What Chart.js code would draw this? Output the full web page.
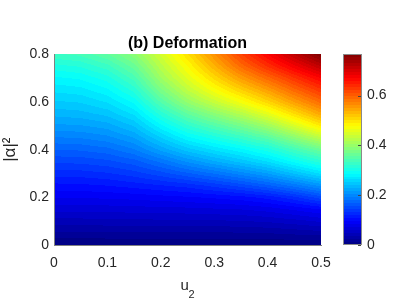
<!DOCTYPE html>
<html>
<head>
  <title>(b) Deformation</title>
  <style>
    body { margin: 0; background: #fff; }
    #chart { display: block; }
  </style>
</head>
<body>
  <canvas id="chart" width="415" height="300"></canvas>

  <script src="https://cdn.jsdelivr.net/npm/chart.js"></script>
  <script>
    // grid: u2 along x, |alpha|^2 along y
    const u2Values = [0, 0.05, 0.1, 0.15, 0.2, 0.25, 0.3, 0.35, 0.4, 0.45, 0.5];
    const alphaValues = [0, 0.05, 0.1, 0.15, 0.2, 0.25, 0.3, 0.35, 0.4, 0.45, 0.5, 0.55, 0.6, 0.65, 0.7, 0.75, 0.8];

    // deformation, one row per |alpha|^2 value (bottom to top), one column per u2 value
    const deformation = [
      [0, 0, 0, 0, 0, 0, 0, 0, 0, 0, 0],
      [0.021, 0.021, 0.022, 0.022, 0.022, 0.022, 0.022, 0.023, 0.024, 0.027, 0.030],
      [0.043, 0.043, 0.044, 0.044, 0.045, 0.045, 0.046, 0.047, 0.050, 0.055, 0.062],
      [0.064, 0.064, 0.065, 0.066, 0.067, 0.068, 0.070, 0.072, 0.077, 0.086, 0.096],
      [0.084, 0.085, 0.086, 0.088, 0.091, 0.094, 0.098, 0.103, 0.112, 0.128, 0.150],
      [0.104, 0.105, 0.108, 0.113, 0.119, 0.125, 0.136, 0.149, 0.165, 0.185, 0.208],
      [0.125, 0.126, 0.130, 0.138, 0.150, 0.165, 0.180, 0.197, 0.215, 0.240, 0.265],
      [0.146, 0.147, 0.152, 0.162, 0.182, 0.205, 0.225, 0.243, 0.263, 0.290, 0.317],
      [0.167, 0.169, 0.175, 0.190, 0.218, 0.245, 0.265, 0.283, 0.305, 0.335, 0.367],
      [0.190, 0.192, 0.199, 0.215, 0.250, 0.283, 0.305, 0.327, 0.352, 0.390, 0.428],
      [0.212, 0.214, 0.221, 0.240, 0.283, 0.320, 0.347, 0.373, 0.405, 0.448, 0.492],
      [0.231, 0.234, 0.243, 0.265, 0.315, 0.358, 0.390, 0.422, 0.458, 0.502, 0.545],
      [0.249, 0.252, 0.264, 0.290, 0.348, 0.397, 0.435, 0.470, 0.508, 0.550, 0.590],
      [0.266, 0.270, 0.284, 0.315, 0.378, 0.430, 0.473, 0.512, 0.550, 0.592, 0.630],
      [0.284, 0.289, 0.305, 0.340, 0.405, 0.456, 0.505, 0.552, 0.592, 0.632, 0.670],
      [0.306, 0.312, 0.330, 0.365, 0.425, 0.478, 0.535, 0.590, 0.635, 0.677, 0.717],
      [0.332, 0.338, 0.358, 0.390, 0.445, 0.500, 0.560, 0.620, 0.670, 0.718, 0.765]
    ];

    const xTicks = [0, 0.1, 0.2, 0.3, 0.4, 0.5];
    const yTicks = [0, 0.2, 0.4, 0.6, 0.8];
    const colorTicks = [0, 0.2, 0.4, 0.6];
    const colorMax = 0.765;

    const FONT = '"Liberation Sans", Arial, Helvetica, sans-serif';
    const TEXT = '#262626';
    Chart.defaults.font.family = FONT;
    Chart.defaults.color = TEXT;

    // MATLAB style jet colormap with 64 steps
    function jet(t) {
      t = Math.min(0.9999, Math.max(0, t));
      t = (Math.floor(t * 64) + 0.5) / 64;
      const c = k => Math.round(255 * Math.min(1, Math.max(0, 1.5 - Math.abs(4 * t - k))));
      return [c(3), c(2), c(1)];
    }

    function locate(list, v) {
      let i = 0;
      while (i < list.length - 2 && v > list[i + 1]) i++;
      const f = (v - list[i]) / (list[i + 1] - list[i]);
      return [i, Math.min(1, Math.max(0, f))];
    }

    // smooth shading inside a grid cell (like shading interp)
    function shade(u, a) {
      const [i, fx] = locate(u2Values, u);
      const [j, fy] = locate(alphaValues, a);
      const r0 = deformation[j], r1 = deformation[j + 1];
      const lo = r0[i] + (r0[i + 1] - r0[i]) * fx;
      const hi = r1[i] + (r1[i + 1] - r1[i]) * fx;
      return lo + (hi - lo) * fy;
    }

    const heatmap = {
      id: 'heatmap',
      beforeDraw(chart) {
        const { ctx, chartArea: area, scales: { x, y, cb } } = chart;
        const left = Math.round(area.left), top = Math.round(area.top);
        const w = Math.round(area.right) - left, h = Math.round(area.bottom) - top;
        const img = ctx.createImageData(w, h);
        for (let py = 0; py < h; py++) {
          const a = y.getValueForPixel(top + py + 0.5);
          for (let px = 0; px < w; px++) {
            const u = x.getValueForPixel(left + px + 0.5);
            const [r, g, b] = jet(shade(u, a) / colorMax);
            const k = (py * w + px) * 4;
            img.data[k] = r;
            img.data[k + 1] = g;
            img.data[k + 2] = b;
            img.data[k + 3] = 255;
          }
        }
        ctx.putImageData(img, left, top);

        // colour bar
        const bx = Math.round(cb.left) + 22, bw = 19;
        const y0 = Math.round(cb.getPixelForValue(0));
        const y1 = Math.round(cb.getPixelForValue(colorMax));
        for (let py = y1; py < y0; py++) {
          const [r, g, b] = jet(cb.getValueForPixel(py + 0.5) / colorMax);
          ctx.fillStyle = `rgb(${r},${g},${b})`;
          ctx.fillRect(bx, py, bw, 1);
        }
        ctx.strokeStyle = '#8a8a8a';
        ctx.lineWidth = 1;
        ctx.strokeRect(bx + 0.5, y1 + 0.5, bw - 1, y0 - y1 - 1);
        ctx.strokeStyle = '#444';
        colorTicks.forEach(v => {
          const py = Math.round(cb.getPixelForValue(v)) + 0.5;
          ctx.beginPath();
          ctx.moveTo(bx + bw - 4, py);
          ctx.lineTo(bx + bw - 1, py);
          ctx.stroke();
        });
      },
      afterDraw(chart) {
        const { ctx, chartArea: area } = chart;
        const cx = (area.left + area.right) / 2;
        ctx.save();
        ctx.fillStyle = '#000';
        ctx.font = `bold 16px ${FONT}`;
        ctx.textAlign = 'center';
        ctx.textBaseline = 'alphabetic';
        ctx.fillText('(b) Deformation', cx, area.top - 6.5);

        // x axis label u with subscript 2
        ctx.fillStyle = TEXT;
        ctx.textAlign = 'left';
        ctx.font = `15px ${FONT}`;
        ctx.fillText('u', cx - 7, area.bottom + 45);
        ctx.font = `11px ${FONT}`;
        ctx.fillText('2', cx + 1, area.bottom + 53);
        ctx.restore();
      }
    };

    const fixedTicks = list => scale => { scale.ticks = list.map(v => ({ value: v })); };

    new Chart(document.getElementById('chart'), {
      type: 'scatter',
      data: { datasets: [{ data: [] }] },
      options: {
        responsive: false,
        animation: false,
        events: [],
        layout: { padding: { top: 27, left: 0, right: 0, bottom: 0 } },
        plugins: { legend: { display: false }, tooltip: { enabled: false }, title: { display: false } },
        scales: {
          x: {
            type: 'linear', position: 'bottom', min: 0, max: 0.5, z: 1,
            afterBuildTicks: fixedTicks(xTicks),
            afterFit: s => { s.height = 55; },
            grid: { display: false, drawTicks: false },
            border: { display: true, color: '#808080', width: 1 },
            ticks: { font: { size: 14 }, padding: 10, maxRotation: 0, callback: v => String(v) }
          },
          y: {
            type: 'linear', position: 'left', min: 0, max: 0.8, z: 1,
            afterBuildTicks: fixedTicks(yTicks),
            afterFit: s => { s.width = 54; },
            grid: { display: false, drawTicks: false },
            border: { display: true, color: '#808080', width: 1 },
            ticks: { font: { size: 14 }, padding: 5, callback: v => String(v) },
            title: { display: true, text: '|α|²', font: { size: 17 }, padding: { top: 0, bottom: 0 } }
          },
          cb: {
            type: 'linear', position: 'right', min: 0, max: colorMax,
            afterBuildTicks: fixedTicks(colorTicks),
            afterFit: s => { s.width = 94; },
            grid: { display: false, drawTicks: false },
            border: { display: false },
            ticks: { font: { size: 14 }, padding: 46, callback: v => String(v) }
          }
        }
      },
      plugins: [heatmap]
    });
  </script>
</body>
</html>
